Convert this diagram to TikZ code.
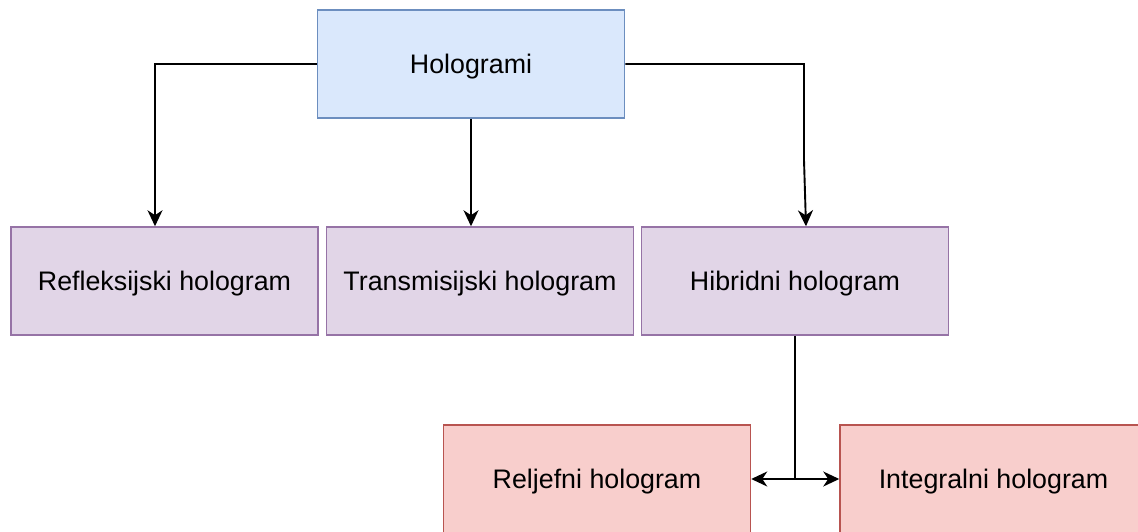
\documentclass[tikz,border=0pt]{standalone}
\usepackage{fontspec}
\setmainfont{Liberation Sans}
\usetikzlibrary{arrows.meta}
\definecolor{bluefill}{HTML}{DAE8FC}
\definecolor{bluedraw}{HTML}{6C8EBF}
\definecolor{purplefill}{HTML}{E1D5E7}
\definecolor{purpledraw}{HTML}{9673A6}
\definecolor{redfill}{HTML}{F8CECC}
\definecolor{reddraw}{HTML}{B85450}
\tikzset{
  box/.style={rectangle, minimum width=307pt, minimum height=108pt, inner sep=0pt,
    text height=19.2pt, text depth=0pt,
    line width=1.5pt, font=\fontsize{26.8}{32}\selectfont},
  topbox/.style={box, fill=bluefill, draw=bluedraw},
  midbox/.style={box, fill=purplefill, draw=purpledraw},
  lowbox/.style={box, fill=redfill, draw=reddraw},
  link/.style={line width=1.9pt, -{Stealth[length=16pt,width=15pt,inset=5pt]}},
}
\begin{document}
\begin{tikzpicture}[x=1pt,y=-1pt]
  \useasboundingbox (0,0) rectangle (1138,531);
  \clip (0,0) rectangle (1138,531);
  \fill[white] (0,0) rectangle (1138,531);

  % root
  \node[topbox] (holo) at (471,64) {Hologrami};

  % second level
  \node[midbox] (refl) at (164.5,281) {Refleksijski hologram};
  \node[midbox] (trans) at (480,281) {Transmisijski hologram};
  \node[midbox] (hib) at (795,281) {Hibridni hologram};

  % third level
  \node[lowbox] (relj) at (597,479) {Reljefni hologram};
  \node[lowbox] (integ) at (993.5,479) {Integralni hologram};

  % connectors from the root
  \draw[link] (holo.west) -| ([xshift=-9.5pt]refl.north);
  \draw[link] (holo.south) -- (holo.south |- trans.north);
  \coordinate (bend) at (804,160);
  \draw[link] (holo.east) -| (bend) -- ([xshift=11pt]hib.north);

  % split below the hybrid hologram
  \coordinate (split) at (hib.south |- relj.east);
  \draw[line width=1.9pt] (hib.south) -- (split);
  \draw[link] (split) -- (relj.east);
  \draw[link] (split) -- (integ.west);
\end{tikzpicture}
\end{document}
